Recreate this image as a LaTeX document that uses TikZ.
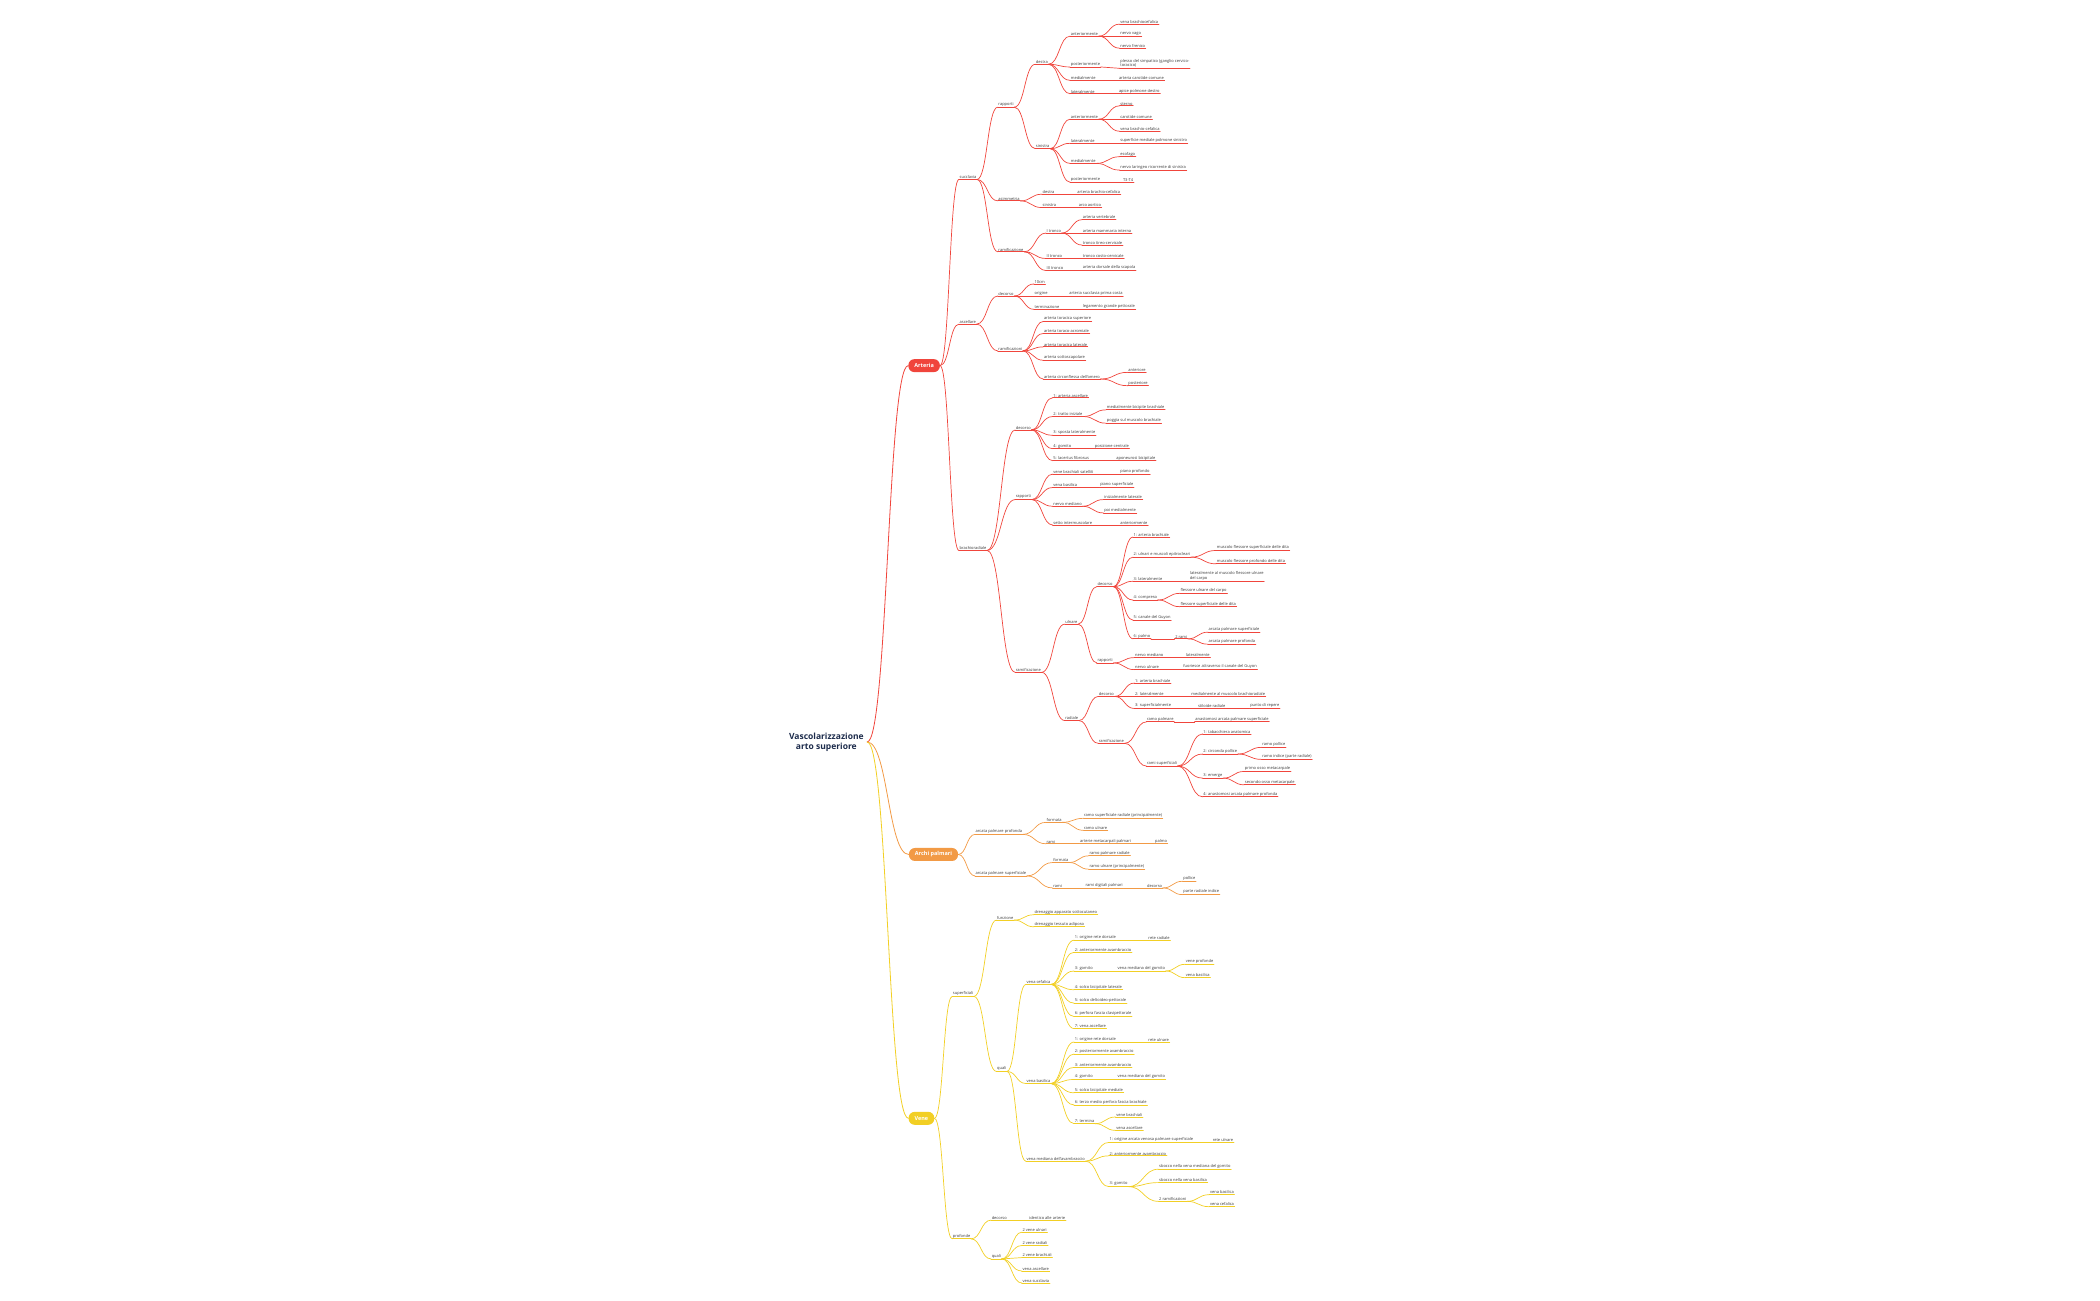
\documentclass[tikz,border=0pt]{standalone}
\usepackage{fontspec}
\setmainfont{Open Sans}
\usetikzlibrary{calc}
\definecolor{cR}{HTML}{F0453C}
\definecolor{cO}{HTML}{F29A45}
\definecolor{cY}{HTML}{F2CF24}
\definecolor{cTxt}{HTML}{3A3A3A}
\definecolor{cRoot}{HTML}{1C2B4B}
\tikzset{
 lbl/.style={anchor=south west, inner sep=0.5pt, font=\fontsize{4}{4.6}\selectfont, text=cTxt, align=left},
 ul/.style={draw=#1, line width=0.8pt, line cap=round},
 cn/.style={draw=#1, line width=0.7pt, line cap=round},
 pill/.style={fill=#1, rounded corners=6pt, text=white, font=\bfseries\fontsize{5.5}{6}\selectfont, minimum height=13pt, inner xsep=6pt},
}
\newcommand\mm[6]{%
 \node[lbl] (#1) at (#3,#4) {#5};
 \draw[ul=#6] (#1.south west) -- (#1.south east);
 \draw[cn=#6] let \p1=(#2), \p2=(#1.south west) in (\p1) .. controls ({(\x1+\x2)/2},\y1) and ({(\x1+\x2)/2},\y2) .. (\p2);
}
\newcommand\rootlink[2]{%
 \draw[ul=#2] let \p1=(root.east), \p2=(#1.west) in (\p1) .. controls ({(\x1+\x2)/2},\y1) and ({(\x1+\x2)/2},\y2) .. (\p2);
}
\begin{document}
\begin{tikzpicture}[x=1.3393pt,y=-1.3393pt]
\useasboundingbox (0,0) rectangle (1568,971);
\node[font=\bfseries\fontsize{8.5}{10}\selectfont, text=cRoot, align=center] (root) at (617,554) {Vascolarizzazione\\arto superiore};
\node[pill=cR] (art) at (690,273) {Arteria};
\node[pill=cO] (arc) at (697,638) {Archi palmari};
\node[pill=cY] (ven) at (688,835) {Vene};
\rootlink{art}{cR}
\rootlink{arc}{cO}
\rootlink{ven}{cY}
% ---------------- Arteria
\mm{a1}{art.east}{716}{134}{succlavia}{cR}
\mm{a2}{art.east}{716}{242}{ascellare}{cR}
\mm{a3}{art.east}{716}{411}{brachioradiale}{cR}
\mm{a11}{a1.south east}{745}{80}{rapporti}{cR}
\mm{a12}{a1.south east}{745}{150}{asimmetria}{cR}
\mm{a13}{a1.south east}{745}{188}{ramificazione}{cR}
\mm{dx}{a11.south east}{773}{48}{destra}{cR}
\mm{sx}{a11.south east}{773}{111}{sinistra}{cR}
\mm{d1}{dx.south east}{799}{27}{anteriormente}{cR}
\mm{d11}{d1.south east}{836}{18}{vena brachiocefalica}{cR}
\mm{d12}{d1.south east}{836}{27}{nervo vago}{cR}
\mm{d13}{d1.south east}{836}{36}{nervo frenico}{cR}
\mm{d2}{dx.south east}{799}{50}{posteriormente}{cR}
\mm{d21}{d2.south east}{836}{51}{plesso del simpatico (ganglio cervico-\\toracico)}{cR}
\mm{d3}{dx.south east}{799}{60}{medialmente}{cR}
\mm{d31}{d3.south east}{835}{60}{arteria carotide comune}{cR}
\mm{d4}{dx.south east}{799}{70}{lateralmente}{cR}
\mm{d41}{d4.south east}{835}{70}{apice polmone destro}{cR}
\mm{s1}{sx.south east}{799}{89}{anteriormente}{cR}
\mm{s11}{s1.south east}{836}{79}{sterno}{cR}
\mm{s12}{s1.south east}{836}{89}{carotide comune}{cR}
\mm{s13}{s1.south east}{836}{98}{vena brachio-cefalica}{cR}
\mm{s2}{sx.south east}{799}{107}{lateralmente}{cR}
\mm{s21}{s2.south east}{836}{107}{superficie mediale polmone sinistro}{cR}
\mm{s3}{sx.south east}{799}{122}{medialmente}{cR}
\mm{s31}{s3.south east}{836}{117}{esofago}{cR}
\mm{s32}{s3.south east}{836}{127}{nervo laringeo ricorrente di sinistra}{cR}
\mm{s4}{sx.south east}{799}{136}{posteriormente}{cR}
\mm{s41}{s4.south east}{838}{136}{T3-T4}{cR}
\mm{as1}{a12.south east}{778}{145}{destra}{cR}
\mm{as11}{as1.south east}{804}{145}{arteria brachio-cefalica}{cR}
\mm{as2}{a12.south east}{778}{155}{sinistra}{cR}
\mm{as21}{as2.south east}{805}{155}{arco aortico}{cR}
\mm{r1}{a13.south east}{781}{174}{I tronco}{cR}
\mm{r11}{r1.south east}{808}{164}{arteria vertebrale}{cR}
\mm{r12}{r1.south east}{808}{174}{arteria mammaria interna}{cR}
\mm{r13}{r1.south east}{808}{183}{tronco tireo-cervicale}{cR}
\mm{r2}{a13.south east}{781}{193}{II tronco}{cR}
\mm{r21}{r2.south east}{808}{193}{tronco costo-cervicale}{cR}
\mm{r3}{a13.south east}{781}{202}{III tronco}{cR}
\mm{r31}{r3.south east}{808}{202}{arteria dorsale della scapola}{cR}
% ascellare
\mm{b1}{a2.south east}{745}{221}{decorso}{cR}
\mm{b11}{b1.south east}{772}{212}{10cm}{cR}
\mm{b12}{b1.south east}{772}{221}{origine}{cR}
\mm{b121}{b12.south east}{798}{221}{arteria succlavia prima costa}{cR}
\mm{b13}{b1.south east}{772}{231}{terminazione}{cR}
\mm{b131}{b13.south east}{808}{231}{legamento grande pettorale}{cR}
\mm{b2}{a2.south east}{745}{262}{ramificazioni}{cR}
\mm{b21}{b2.south east}{779}{240}{arteria toracica superiore}{cR}
\mm{b22}{b2.south east}{779}{249}{arteria toraco-acromiale}{cR}
\mm{b23}{b2.south east}{779}{259}{arteria toracica laterale}{cR}
\mm{b24}{b2.south east}{779}{269}{arteria sottoscapolare}{cR}
\mm{b25}{b2.south east}{779}{283}{arteria circonflessa dell'omero}{cR}
\mm{b251}{b25.south east}{842}{278}{anteriore}{cR}
\mm{b252}{b25.south east}{842}{288}{posteriore}{cR}
% brachiale
\mm{c1}{a3.south east}{758}{321}{decorso}{cR}
\mm{c11}{c1.south east}{786}{297}{1: arteria ascellare}{cR}
\mm{c12}{c1.south east}{786}{311}{2: tratto iniziale}{cR}
\mm{c121}{c12.south east}{826}{306}{medialmente bicipite brachiale}{cR}
\mm{c122}{c12.south east}{826}{316}{poggia sul muscolo brachiale}{cR}
\mm{c13}{c1.south east}{786}{325}{3: sposta lateralmente}{cR}
\mm{c14}{c1.south east}{786}{335}{4: gomito}{cR}
\mm{c141}{c14.south east}{817}{335}{posizione centrale}{cR}
\mm{c15}{c1.south east}{786}{344}{5: lacertus fibrosus}{cR}
\mm{c151}{c15.south east}{833}{344}{aponeurosi bicipitale}{cR}
\mm{c2}{a3.south east}{758}{373}{rapporti}{cR}
\mm{c21}{c2.south east}{786}{354}{vene brachiali satelliti}{cR}
\mm{c211}{c21.south east}{836}{354}{piano profondo}{cR}
\mm{c22}{c2.south east}{786}{364}{vena basilica}{cR}
\mm{c221}{c22.south east}{821}{364}{piano superficiale}{cR}
\mm{c23}{c2.south east}{786}{378}{nervo mediano}{cR}
\mm{c231}{c23.south east}{824}{373}{inizialmente laterale}{cR}
\mm{c232}{c23.south east}{824}{383}{poi medialmente}{cR}
\mm{c24}{c2.south east}{786}{392}{setto intermuscolare}{cR}
\mm{c241}{c24.south east}{836}{392}{anteriormente}{cR}
\mm{c3}{a3.south east}{758}{502}{ramificazione}{cR}
\mm{u}{c3.south east}{795}{466}{ulnare}{cR}
\mm{u1}{u.south east}{819}{438}{decorso}{cR}
\mm{u11}{u1.south east}{846}{401}{1: arteria brachiale}{cR}
\mm{u12}{u1.south east}{846}{416}{2: ulnari e muscoli epitrocleari}{cR}
\mm{u121}{u12.south east}{908}{411}{muscolo flessore superficiale delle dita}{cR}
\mm{u122}{u12.south east}{908}{421}{muscolo flessore profondo delle dita}{cR}
\mm{u13}{u1.south east}{846}{434}{3: lateralmente}{cR}
\mm{u131}{u13.south east}{888}{434}{lateralmente al muscolo flessore ulnare\\del carpo}{cR}
\mm{u14}{u1.south east}{846}{448}{4: compreso}{cR}
\mm{u141}{u14.south east}{881}{443}{flessore ulnare del carpo}{cR}
\mm{u142}{u14.south east}{881}{453}{flessore superficiale delle dita}{cR}
\mm{u15}{u1.south east}{846}{463}{5: canale del Guyon}{cR}
\mm{u16}{u1.south east}{846}{477}{6: palmo}{cR}
\mm{u161}{u16.south east}{877}{477}{2 rami}{cR}
\mm{u1611}{u161.south east}{902}{472}{arcata palmare superficiale}{cR}
\mm{u1612}{u161.south east}{902}{481}{arcata palmare profonda}{cR}
\mm{u2}{u.south east}{819}{495}{rapporti}{cR}
\mm{u21}{u2.south east}{847}{491}{nervo mediano}{cR}
\mm{u211}{u21.south east}{885}{491}{lateralmente}{cR}
\mm{u22}{u2.south east}{847}{500}{nervo ulnare}{cR}
\mm{u221}{u22.south east}{883}{500}{fuoriesce attraverso il canale del Guyon}{cR}
\mm{rd}{c3.south east}{795}{538}{radiale}{cR}
\mm{rd1}{rd.south east}{820}{520}{decorso}{cR}
\mm{rd11}{rd1.south east}{847}{510}{1: arteria brachiale}{cR}
\mm{rd12}{rd1.south east}{847}{520}{2: lateralmente}{cR}
\mm{rd121}{rd12.south east}{889}{520}{medialmente al muscolo brachioradiale}{cR}
\mm{rd13}{rd1.south east}{847}{529}{3: superficialmente}{cR}
\mm{rd131}{rd13.south east}{894}{529}{stiloide radiale}{cR}
\mm{rd1311}{rd131.south east}{933}{529}{punto di repere}{cR}
\mm{rd2}{rd.south east}{820}{555}{ramificazione}{cR}
\mm{rd21}{rd2.south east}{856}{539}{ramo palmare}{cR}
\mm{rd211}{rd21.south east}{892}{539}{anastomosi arcata palmare superficiale}{cR}
\mm{rd22}{rd2.south east}{856}{572}{rami superficiali}{cR}
\mm{rd221}{rd22.south east}{898}{548}{1: tabacchiera anatomica}{cR}
\mm{rd222}{rd22.south east}{898}{563}{2: circonda pollice}{cR}
\mm{rd2221}{rd222.south east}{942}{558}{ramo pollice}{cR}
\mm{rd2222}{rd222.south east}{942}{567}{ramo indice (parte radiale)}{cR}
\mm{rd223}{rd22.south east}{898}{581}{3: emerge}{cR}
\mm{rd2231}{rd223.south east}{929}{576}{primo osso metacarpale}{cR}
\mm{rd2232}{rd223.south east}{929}{586}{secondo osso metacarpale}{cR}
\mm{rd224}{rd22.south east}{898}{595}{4: anastomosi arcata palmare profonda}{cR}
% ---------------- Archi palmari
\mm{p1}{arc.east}{728}{623}{arcata palmare profonda}{cO}
\mm{p11}{p1.south east}{781}{614}{formata}{cO}
\mm{p111}{p11.south east}{809}{611}{ramo superficiale radiale (principalmente)}{cO}
\mm{p112}{p11.south east}{809}{620}{ramo ulnare}{cO}
\mm{p12}{p1.south east}{781}{630}{rami}{cO}
\mm{p121}{p12.south east}{806}{630}{arterie metacarpali palmari}{cO}
\mm{p1211}{p121.south east}{862}{630}{palmo}{cO}
\mm{p2}{arc.east}{728}{654}{arcata palmare superficiale}{cO}
\mm{p21}{p2.south east}{786}{644}{formata}{cO}
\mm{p211}{p21.south east}{813}{639}{ramo palmare radiale}{cO}
\mm{p212}{p21.south east}{813}{649}{ramo ulnare (principalmente)}{cO}
\mm{p22}{p2.south east}{786}{663}{rami}{cO}
\mm{p221}{p22.south east}{810}{663}{rami digitali palmari}{cO}
\mm{p2211}{p221.south east}{856}{663}{decorso}{cO}
\mm{p22111}{p2211.south east}{883}{658}{pollice}{cO}
\mm{p22112}{p2211.south east}{883}{668}{parte radiale indice}{cO}
% ---------------- Vene
\mm{v1}{ven.east}{711}{744}{superficiali}{cY}
\mm{v11}{v1.south east}{744}{687}{funzione}{cY}
\mm{v111}{v11.south east}{772}{683}{drenaggio apparato sottocutaneo}{cY}
\mm{v112}{v11.south east}{772}{692}{drenaggio tessuto adiposo}{cY}
\mm{v12}{v1.south east}{744}{800}{quali}{cY}
\mm{vc}{v12.south east}{766}{735}{vena cefalica}{cY}
\mm{vc1}{vc.south east}{802}{702}{1: origine rete dorsale}{cY}
\mm{vc11}{vc1.south east}{857}{702}{rete radiale}{cY}
\mm{vc2}{vc.south east}{802}{711}{2: anteriormente avambraccio}{cY}
\mm{vc3}{vc.south east}{802}{725}{3: gomito}{cY}
\mm{vc31}{vc3.south east}{834}{725}{vena mediana del gomito}{cY}
\mm{vc311}{vc31.south east}{885}{720}{vene profonde}{cY}
\mm{vc312}{vc31.south east}{885}{730}{vena basilica}{cY}
\mm{vc4}{vc.south east}{802}{739}{4: solco bicipitale laterale}{cY}
\mm{vc5}{vc.south east}{802}{749}{5: solco deltoideo-pettorale}{cY}
\mm{vc6}{vc.south east}{802}{759}{6: perfora fascia clavipettorale}{cY}
\mm{vc7}{vc.south east}{802}{768}{7: vena ascellare}{cY}
\mm{vb}{v12.south east}{766}{809}{vena basilica}{cY}
\mm{vb1}{vb.south east}{802}{778}{1: origine rete dorsale}{cY}
\mm{vb11}{vb1.south east}{857}{778}{rete ulnare}{cY}
\mm{vb2}{vb.south east}{802}{787}{2: posteriormente avambraccio}{cY}
\mm{vb3}{vb.south east}{802}{797}{3: anteriormente avambraccio}{cY}
\mm{vb4}{vb.south east}{802}{806}{4: gomito}{cY}
\mm{vb41}{vb4.south east}{834}{806}{vena mediana del gomito}{cY}
\mm{vb5}{vb.south east}{802}{816}{5: solco bicipitale mediale}{cY}
\mm{vb6}{vb.south east}{802}{825}{6: terzo medio perfora fascia brachiale}{cY}
\mm{vb7}{vb.south east}{802}{839}{7: termina}{cY}
\mm{vb71}{vb7.south east}{833}{834}{vene brachiali}{cY}
\mm{vb72}{vb7.south east}{833}{844}{vena ascellare}{cY}
\mm{vm}{v12.south east}{766}{867}{vena mediana dell'avambraccio}{cY}
\mm{vm1}{vm.south east}{828}{853}{1: origine arcata venosa palmare superficiale}{cY}
\mm{vm11}{vm1.south east}{905}{853}{rete ulnare}{cY}
\mm{vm2}{vm.south east}{828}{863}{2: anteriormente avambraccio}{cY}
\mm{vm3}{vm.south east}{828}{886}{3: gomito}{cY}
\mm{vm31}{vm3.south east}{865}{873}{sbocco nella vena mediana del gomito}{cY}
\mm{vm32}{vm3.south east}{865}{883}{sbocco nella vena basilica}{cY}
\mm{vm33}{vm3.south east}{865}{897}{2 ramificazioni}{cY}
\mm{vm331}{vm33.south east}{903}{892}{vena basilica}{cY}
\mm{vm332}{vm33.south east}{903}{901}{vena cefalica}{cY}
\mm{v2}{ven.east}{711}{925}{profonde}{cY}
\mm{v21}{v2.south east}{740}{911}{decorso}{cY}
\mm{v211}{v21.south east}{768}{911}{identico alle arterie}{cY}
\mm{v22}{v2.south east}{740}{940}{quali}{cY}
\mm{v221}{v22.south east}{763}{920}{2 vene ulnari}{cY}
\mm{v222}{v22.south east}{763}{930}{2 vene radiali}{cY}
\mm{v223}{v22.south east}{763}{939}{2 vene brachiali}{cY}
\mm{v224}{v22.south east}{763}{949}{vena ascellare}{cY}
\mm{v225}{v22.south east}{763}{958}{vena succlavia}{cY}
\end{tikzpicture}
\end{document}
